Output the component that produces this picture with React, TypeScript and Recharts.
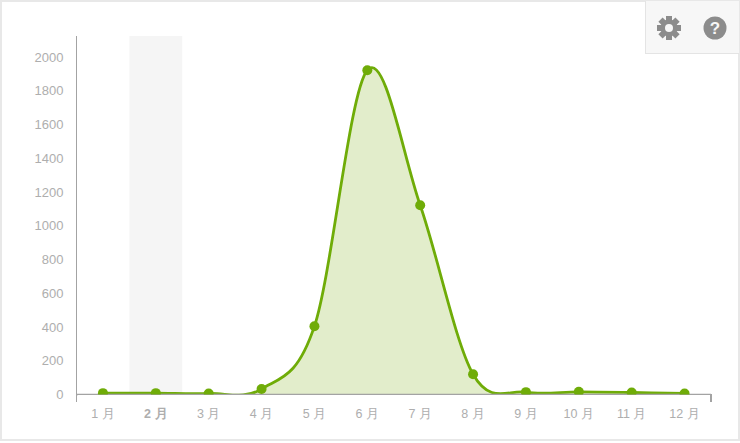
import React from "react";
import { ComposedChart, Area, ReferenceArea, XAxis, YAxis } from "recharts";

const months = ["1 月", "2 月", "3 月", "4 月", "5 月", "6 月", "7 月", "8 月", "9 月", "10 月", "11 月", "12 月"];
const counts = [8, 8, 6, 33, 405, 1922, 1122, 120, 14, 16, 12, 6];
const yTicks = [0, 200, 400, 600, 800, 1000, 1200, 1400, 1600, 1800, 2000];
const highlightMonth = "2 月";
const yMax = 2125;

const data = months.map((m, i) => ({ month: m, count: counts[i] }));

// Smooth spline through every point (overshoots slightly like the source chart)
function smoothCurve(context: any) {
  const k = 1 / 6;
  let x0 = 0, y0 = 0, x1 = 0, y1 = 0, x2 = 0, y2 = 0;
  let n = 0;
  let areaLine = NaN;
  const seg = (x: number, y: number) => {
    context.bezierCurveTo(x1 + (x2 - x0) * k, y1 + (y2 - y0) * k, x2 - (x - x1) * k, y2 - (y - y1) * k, x2, y2);
  };
  return {
    areaStart() { areaLine = 0; },
    areaEnd() { areaLine = NaN; },
    lineStart() { n = 0; },
    lineEnd() {
      if (n === 2) context.lineTo(x2, y2);
      else if (n > 2) seg(x2, y2);
      if (areaLine || (areaLine !== 0 && n === 1)) context.closePath();
      areaLine = 1 - areaLine;
    },
    point(xv: number, yv: number) {
      const x = +xv, y = +yv;
      n += 1;
      if (n === 1) {
        if (areaLine) context.lineTo(x, y);
        else context.moveTo(x, y);
        x1 = x2 = x; y1 = y2 = y; x0 = x; y0 = y;
        return;
      }
      if (n >= 3) seg(x, y);
      x0 = x1; y0 = y1; x1 = x2; y1 = y2; x2 = x; y2 = y;
    },
  };
}

const FONT = "'Liberation Sans', Arial, sans-serif";

function MonthTick(props: any) {
  const { x, y, payload } = props;
  const bold = payload.value === highlightMonth;
  return (
    <text x={x} y={y + 15} textAnchor="middle" fontSize={12.5} fontFamily={FONT} fontWeight={bold ? 700 : 400} fill="#aeaeae">
      {payload.value}
    </text>
  );
}

const gearTeeth = [0, 45, 90, 135, 180, 225, 270, 315];

export default function App() {
  return (
    <div style={{ position: "fixed", left: 0, top: 0, width: 740, height: 443, background: "#fff", overflow: "hidden" }}>
      <div style={{ position: "absolute", left: 0, top: 0, width: 736, height: 437, border: "2px solid #e8e8e8" }} />
      <div style={{ position: "absolute", left: 0, top: 0 }}>
        <ComposedChart width={740} height={443} data={data} margin={{ top: 36, right: 29, bottom: 18.5, left: 0 }}>
          <XAxis
            dataKey="month"
            scale="band"
            interval={0}
            tick={<MonthTick />}
            tickLine={false}
            axisLine={{ stroke: "#a3a3a3", strokeWidth: 1.5 }}
          />
          <YAxis
            width={76.5}
            domain={[0, yMax]}
            ticks={yTicks}
            allowDataOverflow
            interval={0}
            tickLine={false}
            tickMargin={7}
            tick={{ fontSize: 13, fontFamily: FONT, fill: "#aeaeae" }}
            axisLine={{ stroke: "#a3a3a3", strokeWidth: 1 }}
          />
          <ReferenceArea x1={highlightMonth} x2={highlightMonth} y1={0} y2={yMax} fill="#f5f5f5" fillOpacity={1} stroke="none" />
          <Area
            dataKey="count"
            type={smoothCurve as any}
            stroke="#6fac08"
            strokeWidth={2.8}
            fill="#e2edcb"
            fillOpacity={1}
            dot={{ r: 5, fill: "#6fac08", stroke: "#6fac08", strokeWidth: 0, fillOpacity: 1 }}
            activeDot={false}
            isAnimationActive={false}
          />
        </ComposedChart>
      </div>
      <div style={{ position: "absolute", left: 78, top: 395, width: 632, height: 8, background: "#fff" }} />
      <div style={{ position: "absolute", left: 76, top: 394, width: 1, height: 8, background: "#a3a3a3" }} />
      <div style={{ position: "absolute", left: 710, top: 394, width: 1.5, height: 8, background: "#a3a3a3" }} />
      <div style={{ position: "absolute", left: 645, top: 1, width: 93, height: 52, background: "#f7f7f7", borderLeft: "1px solid #e4e4e4", borderBottom: "1px solid #e4e4e4" }} />
      <svg style={{ position: "absolute", left: 645, top: 0 }} width={95} height={56}>
        <g transform="translate(24,28)" fill="#8c8c8c">
          {gearTeeth.map((a) => (
            <rect key={a} x={-3} y={-12} width={6} height={6} transform={`rotate(${a})`} />
          ))}
          <circle r={8.5} />
          <circle r={4} fill="#f7f7f7" />
        </g>
        <g transform="translate(70,28)">
          <circle r={11.5} fill="#8c8c8c" />
          <text y={6} textAnchor="middle" fontSize={17} fontWeight={700} fontFamily={FONT} fill="#f7f7f7">?</text>
        </g>
      </svg>
    </div>
  );
}
